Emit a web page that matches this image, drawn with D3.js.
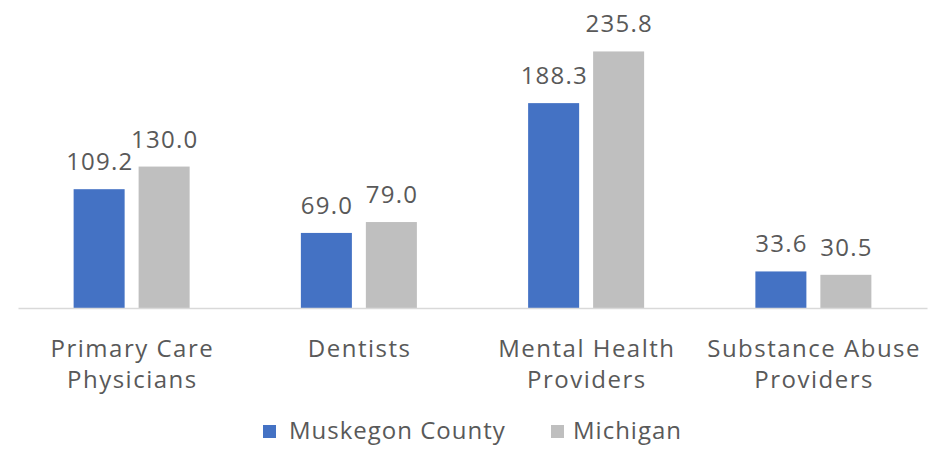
<!DOCTYPE html>
<html>
<head>
<meta charset="utf-8">
<script src="https://cdn.jsdelivr.net/npm/d3@7"></script>
<style>
  html, body { margin: 0; padding: 0; background: #fff; }
  svg { display: block; }
  text { font-family: "Open Sans", "Noto Sans", sans-serif; fill: #595959; }
</style>
</head>
<body>
<svg id="chart" width="937" height="462"></svg>
<script>
const categories = ["Primary Care Physicians", "Dentists", "Mental Health Providers", "Substance Abuse Providers"];
const categoryLines = [["Primary Care", "Physicians"], ["Dentists"], ["Mental Health", "Providers"], ["Substance Abuse", "Providers"]];
const seriesNames = ["Muskegon County", "Michigan"];
const muskegonValues = [109.2, 69.0, 188.3, 33.6];
const michiganValues = [130.0, 79.0, 235.8, 30.5];
const seriesColors = ["#4472C4", "#BFBFBF"];

(function () {
const svg = d3.select("#chart");
const plotLeft = 18, plotRight = 927, baseline = 308, plotTop = 36;

const x0 = d3.scaleBand().domain(categories).range([plotLeft, plotRight])
  .paddingInner(0.4895).paddingOuter(0.4895 / 2);
const x1 = d3.scaleBand().domain(seriesNames).range([0, x0.bandwidth()]).paddingInner(0.215);
const y = d3.scaleLinear().domain([0, 250]).range([baseline, plotTop]);
const color = d3.scaleOrdinal().domain(seriesNames).range(seriesColors);

const rows = categories.map((c, i) => ({
  category: c,
  values: [
    { series: seriesNames[0], value: muskegonValues[i] },
    { series: seriesNames[1], value: michiganValues[i] }
  ]
}));

const groups = svg.append("g").selectAll("g").data(rows).join("g")
  .attr("transform", d => `translate(${x0(d.category)},0)`);

groups.selectAll("rect").data(d => d.values).join("rect")
  .attr("x", d => x1(d.series))
  .attr("width", x1.bandwidth())
  .attr("y", d => y(d.value))
  .attr("height", d => y(0) - y(d.value))
  .attr("fill", d => color(d.series));

groups.selectAll("text.val").data(d => d.values).join("text")
  .attr("class", "val")
  .attr("x", d => x1(d.series) + x1.bandwidth() / 2 + 0.6)
  .attr("y", d => y(d.value) - 19)
  .attr("text-anchor", "middle")
  .style("font-size", "24px")
  .style("letter-spacing", "1.2px")
  .text(d => d.value.toFixed(1));

const xAxis = d3.axisBottom(x0).tickSize(0).tickFormat("");
const axisG = svg.append("g").attr("transform", `translate(0,${baseline})`).call(xAxis);
axisG.select(".domain").attr("stroke", "#D9D9D9").attr("stroke-width", 1.5);

const catG = svg.append("g");
categories.forEach((c, i) => {
  const cx = x0(c) + x0.bandwidth() / 2 + 0.75;
  const t = catG.append("text")
    .attr("x", cx)
    .attr("y", 357)
    .attr("text-anchor", "middle")
    .style("font-size", "24px")
    .style("letter-spacing", "1.5px");
  categoryLines[i].forEach((line, j) => {
    t.append("tspan").attr("x", cx).attr("dy", j === 0 ? 0 : 31).text(line);
  });
});

const legendItems = [
  { name: seriesNames[0], sx: 263, tx: 289 },
  { name: seriesNames[1], sx: 551, tx: 573 }
];
const lg = svg.append("g");
legendItems.forEach(it => {
  lg.append("rect").attr("x", it.sx).attr("y", 425).attr("width", 13).attr("height", 13)
    .attr("fill", color(it.name));
  lg.append("text").attr("x", it.tx).attr("y", 439)
    .style("font-size", "24px").style("letter-spacing", "1px").text(it.name);
});
})();
</script>
</body>
</html>
